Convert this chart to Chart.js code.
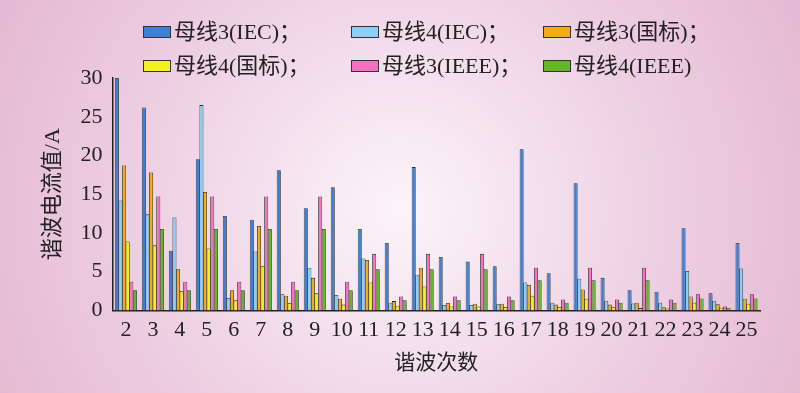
<!DOCTYPE html>
<html>
<head>
<meta charset="utf-8">
<script src="https://cdn.jsdelivr.net/npm/chart.js@4/dist/chart.umd.min.js"></script>
<style>
  html, body { margin: 0; padding: 0; background: #f0d6e6; }
  #wrap { width: 800px; height: 393px; }
</style>
</head>
<body>
<div id="wrap"><canvas id="chartHarm" width="800" height="393"></canvas></div>
<script>
// harmonic order
var orders = ['2','3','4','5','6','7','8','9','10','11','12','13','14','15','16','17','18','19','20','21','22','23','24','25'];

var bus3Iec  = [30, 26.2, 7.7, 19.5, 12.2, 11.7, 18.1, 13.2, 15.9, 10.5, 8.7, 18.5, 6.9, 6.3, 5.7, 20.8, 4.8, 16.4, 4.2, 2.6, 2.4, 10.6, 2.2, 8.7];
var bus4Iec  = [14.2, 12.4, 12.0, 26.5, 1.6, 7.6, 2.1, 5.5, 2.0, 6.7, 1.0, 4.6, 0.7, 0.7, 0.8, 3.6, 1.0, 4.1, 1.25, 0.9, 1.0, 5.1, 1.25, 5.4];
var bus3Gb   = [18.7, 17.8, 5.3, 15.3, 2.6, 10.9, 1.9, 4.2, 1.5, 6.5, 1.2, 5.5, 0.95, 0.85, 0.85, 3.3, 0.75, 2.7, 0.75, 1.0, 0.4, 1.8, 0.8, 1.5];
var bus4Gb   = [8.9, 8.4, 2.5, 8.0, 1.3, 5.7, 0.95, 2.2, 0.75, 3.6, 0.6, 3.1, 0.5, 0.5, 0.45, 1.9, 0.45, 1.5, 0.4, 0.3, 0.25, 1.0, 0.35, 0.85];
var bus3Ieee = [3.7, 14.7, 3.7, 14.7, 3.7, 14.7, 3.7, 14.7, 3.7, 7.3, 1.8, 7.3, 1.8, 7.3, 1.8, 5.5, 1.4, 5.5, 1.4, 5.5, 1.4, 2.1, 0.5, 2.1];
var bus4Ieee = [2.6, 10.5, 2.6, 10.5, 2.6, 10.5, 2.6, 10.5, 2.6, 5.3, 1.3, 5.3, 1.3, 5.3, 1.3, 3.9, 1.0, 3.9, 1.0, 3.9, 1.0, 1.55, 0.35, 1.55];

var seriesNames  = ['母线3(IEC)；', '母线4(IEC)；', '母线3(国标)；', '母线4(国标)；', '母线3(IEEE)；', '母线4(IEEE)'];
var seriesColors = ['#3f80d4', '#8ccef4', '#f4ac14', '#f2f21c', '#f472c0', '#62b628'];
var yTicks = [0, 5, 10, 15, 20, 25, 30];

var serif = '"Liberation Serif", "Noto Sans CJK SC", serif';

// pink radial background
var bgPlugin = {
  id: 'bg',
  beforeDraw: function (chart) {
    var c = chart.ctx;
    var g = c.createRadialGradient(400, 210, 10, 400, 210, 500);
    g.addColorStop(0, '#fbf3f8');
    g.addColorStop(0.5, '#eed0e3');
    g.addColorStop(1, '#e2b2d0');
    c.save();
    c.fillStyle = g;
    c.fillRect(0, 0, chart.width, chart.height);
    c.restore();
  }
};

// legend laid out as a 3x2 grid like the original
var gridLegend = {
  id: 'gridLegend',
  afterDraw: function (chart) {
    var c = chart.ctx;
    var colX = [143, 351, 543];
    var rowY = [32, 66];
    c.save();
    c.font = '22px ' + serif;
    c.textBaseline = 'middle';
    chart.data.datasets.forEach(function (ds, i) {
      var x = colX[i % 3], y = rowY[Math.floor(i / 3)];
      c.fillStyle = ds.backgroundColor;
      c.fillRect(x, y - 6, 28, 12);
      c.strokeStyle = '#333';
      c.lineWidth = 1;
      c.strokeRect(x + 0.5, y - 5.5, 27, 11);
      c.fillStyle = '#222';
      c.fillText(ds.label, x + 31, y + 1);
    });
    c.restore();
  }
};

var allData = [bus3Iec, bus4Iec, bus3Gb, bus4Gb, bus3Ieee, bus4Ieee];
var datasets = allData.map(function (d, i) {
  return {
    label: seriesNames[i],
    data: d,
    backgroundColor: seriesColors[i],
    borderColor: '#2a2a2a',
    borderWidth: 0.8,
    // slightly wider than the slot so neighbouring outlines share a line
    barPercentage: 1.12,
    categoryPercentage: 0.8
  };
});

var ctx = document.getElementById('chartHarm').getContext('2d');
var chart = new Chart(ctx, {
  type: 'bar',
  data: { labels: orders, datasets: datasets },
  plugins: [bgPlugin, gridLegend],
  options: {
    responsive: false,
    animation: false,
    layout: { padding: { top: 78, right: 40, left: 36, bottom: 13 } },
    plugins: {
      legend: { display: false },
      tooltip: { enabled: false }
    },
    scales: {
      x: {
        grid: { display: false, drawTicks: false },
        border: { display: true, color: '#222', width: 1.5 },
        ticks: { color: '#222', font: { family: serif, size: 22 }, padding: 7, maxRotation: 0, autoSkip: false },
        title: { display: true, text: '谐波次数', color: '#222', font: { family: serif, size: 21 }, padding: { top: 0 } }
      },
      y: {
        min: 0,
        max: 30,
        afterBuildTicks: function (axis) {
          axis.ticks = yTicks.map(function (v) { return { value: v }; });
        },
        grid: { display: false, drawTicks: false },
        border: { display: true, color: '#222', width: 1.5 },
        ticks: { color: '#222', font: { family: serif, size: 22 }, padding: 10 },
        title: { display: true, text: '谐波电流值/A', color: '#222', font: { family: serif, size: 22 }, padding: { bottom: 4 } }
      }
    }
  }
});
</script>
</body>
</html>
